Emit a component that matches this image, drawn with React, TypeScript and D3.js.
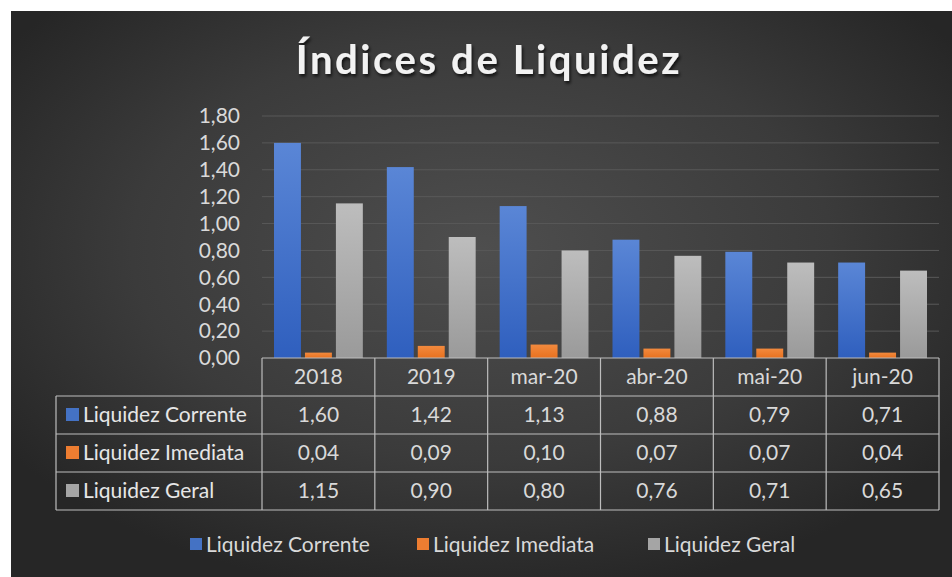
import React from 'react';
import * as d3 from 'd3';

// Índices de Liquidez — clustered columns with a data table beneath the axis.

const W = 952;
const H = 577;
const FONT = 'Lato, "Open Sans", sans-serif';

const CATEGORIES = ['2018', '2019', 'mar-20', 'abr-20', 'mai-20', 'jun-20'];
const SERIES = ['Liquidez Corrente', 'Liquidez Imediata', 'Liquidez Geral'];
const CORRENTE = [1.6, 1.42, 1.13, 0.88, 0.79, 0.71];
const IMEDIATA = [0.04, 0.09, 0.1, 0.07, 0.07, 0.04];
const GERAL = [1.15, 0.9, 0.8, 0.76, 0.71, 0.65];
const Y_TICKS = [0, 0.2, 0.4, 0.6, 0.8, 1.0, 1.2, 1.4, 1.6, 1.8];

const VALUES = [CORRENTE, IMEDIATA, GERAL];
const COLORS = ['#4472c4', '#ed7d31', '#a5a5a5'];
const GRAD_TOP = ['#5a86d6', '#f28a3e', '#bdbdbd'];
const GRAD_BOT = ['#2f5fbe', '#e8711f', '#9a9a9a'];

const PLOT = { left: 262, right: 939, top: 116, bottom: 358 };
const TABLE_LEFT = 56;
const ROW_H = 38;
const TEXT_SIZE = 21;

const fmt = (v: number) => v.toFixed(2).replace('.', ',');

export default function App() {
  const x = d3.scaleBand<string>().domain(CATEGORIES).range([PLOT.left, PLOT.right]);
  const y = d3.scaleLinear().domain([0, 1.8]).range([PLOT.bottom, PLOT.top]);
  const inner = d3
    .scaleBand<string>()
    .domain(SERIES)
    .range([12, x.bandwidth() - 12])
    .paddingInner(0.13);

  const headerTop = PLOT.bottom;
  const rowsTop = headerTop + ROW_H;
  const tableBottom = rowsTop + ROW_H * SERIES.length;
  const border = '#bdbdbd';

  // legend below the table
  const legendX = [190, 417, 648];

  return (
    <svg width={W} height={H} style={{ position: 'absolute', left: 0, top: 0 }} fontFamily={FONT}>
      <defs>
        <radialGradient id="bg" cx="50%" cy="42%" r="62%">
          <stop offset="0%" stopColor="#4e4e4e" />
          <stop offset="60%" stopColor="#3b3b3b" />
          <stop offset="100%" stopColor="#262626" />
        </radialGradient>
        {COLORS.map((c, i) => (
          <linearGradient key={c} id={`bar${i}`} x1="0" y1="0" x2="0" y2="1">
            <stop offset="0%" stopColor={GRAD_TOP[i]} />
            <stop offset="100%" stopColor={GRAD_BOT[i]} />
          </linearGradient>
        ))}
        <filter id="shadow" x="-10%" y="-10%" width="120%" height="140%">
          <feDropShadow dx="1.5" dy="2.5" stdDeviation="1.5" floodColor="#000" floodOpacity="0.7" />
        </filter>
      </defs>

      <rect x={0} y={0} width={W} height={H} fill="#fff" />
      <rect x={11} y={11} width={W - 11} height={H - 11} fill="url(#bg)" />

      <text
        x={489}
        y={74}
        textAnchor="middle"
        fill="#f2f2f2"
        fontSize={40}
        fontWeight={700}
        letterSpacing={2.6}
        filter="url(#shadow)"
      >
        Índices de Liquidez
      </text>

      {/* gridlines */}
      {Y_TICKS.slice(1).map((t) => (
        <line
          key={t}
          x1={PLOT.left}
          x2={PLOT.right}
          y1={y(t)}
          y2={y(t)}
          stroke="#595959"
          strokeWidth={1}
        />
      ))}

      {/* y tick labels */}
      {Y_TICKS.map((t) => (
        <text
          key={t}
          x={240}
          y={y(t)}
          dy="0.35em"
          textAnchor="end"
          fill="#d9d9d9"
          fontSize={TEXT_SIZE}
        >
          {fmt(t)}
        </text>
      ))}

      {/* bars */}
      {SERIES.map((s, si) =>
        CATEGORIES.map((c, ci) => {
          const v = VALUES[si][ci];
          const bx = (x(c) ?? 0) + (inner(s) ?? 0);
          return (
            <rect
              key={`${s}-${c}`}
              x={bx}
              y={y(v)}
              width={inner.bandwidth()}
              height={y(0) - y(v)}
              fill={`url(#bar${si})`}
            />
          );
        }),
      )}

      {/* data table */}
      <g stroke={border} strokeWidth={1.2} fill="none">
        <line x1={PLOT.left} x2={PLOT.right} y1={headerTop} y2={headerTop} />
        {[0, 1, 2, 3].map((r) => (
          <line
            key={r}
            x1={TABLE_LEFT}
            x2={PLOT.right}
            y1={rowsTop + r * ROW_H}
            y2={rowsTop + r * ROW_H}
          />
        ))}
        <line x1={TABLE_LEFT} x2={TABLE_LEFT} y1={rowsTop} y2={tableBottom} />
        {CATEGORIES.map((c) => (
          <line key={c} x1={x(c)} x2={x(c)} y1={headerTop} y2={tableBottom} />
        ))}
        <line x1={PLOT.right} x2={PLOT.right} y1={headerTop} y2={tableBottom} />
      </g>

      {CATEGORIES.map((c) => (
        <text
          key={c}
          x={(x(c) ?? 0) + x.bandwidth() / 2}
          y={headerTop + ROW_H / 2}
          dy="0.35em"
          textAnchor="middle"
          fill="#d9d9d9"
          fontSize={TEXT_SIZE}
        >
          {c}
        </text>
      ))}

      {SERIES.map((s, si) => {
        const cy = rowsTop + si * ROW_H + ROW_H / 2;
        return (
          <g key={s}>
            <rect x={66} y={cy - 7} width={13} height={13} fill={COLORS[si]} />
            <text x={83} y={cy} dy="0.35em" fill="#e6e6e6" fontSize={TEXT_SIZE}>
              {s}
            </text>
            {CATEGORIES.map((c, ci) => (
              <text
                key={c}
                x={(x(c) ?? 0) + x.bandwidth() / 2}
                y={cy}
                dy="0.35em"
                textAnchor="middle"
                fill="#d9d9d9"
                fontSize={TEXT_SIZE}
              >
                {fmt(VALUES[si][ci])}
              </text>
            ))}
          </g>
        );
      })}

      {/* legend */}
      {SERIES.map((s, si) => (
        <g key={s}>
          <rect x={legendX[si]} y={538} width={12} height={12} fill={COLORS[si]} />
          <text x={legendX[si] + 16} y={545} dy="0.35em" fill="#d9d9d9" fontSize={TEXT_SIZE}>
            {s}
          </text>
        </g>
      ))}
    </svg>
  );
}
